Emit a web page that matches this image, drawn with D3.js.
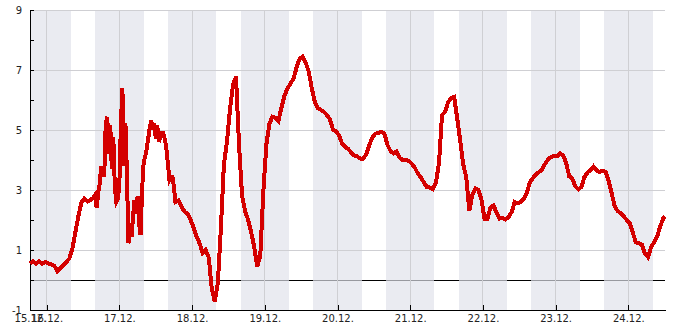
<!DOCTYPE html>
<html><head><meta charset="utf-8">
<script src="https://cdn.jsdelivr.net/npm/d3@7"></script>
<style>
body{margin:0;background:#fff}
text{font-family:"DejaVu Sans",sans-serif;font-size:10px;fill:#222}
</style>
</head><body>
<svg id="c" width="685" height="330"></svg>
<script>
const times = [
"2022-12-15 18:30","2022-12-15 19:30","2022-12-15 20:30","2022-12-15 21:30","2022-12-15 22:30","2022-12-15 23:30",
"2022-12-16 00:30","2022-12-16 01:30","2022-12-16 02:30","2022-12-16 03:30","2022-12-16 04:30","2022-12-16 05:30",
"2022-12-16 06:30","2022-12-16 07:30","2022-12-16 08:30","2022-12-16 09:30","2022-12-16 10:30","2022-12-16 11:30",
"2022-12-16 12:30","2022-12-16 13:30","2022-12-16 14:30","2022-12-16 15:30","2022-12-16 16:00","2022-12-16 16:30",
"2022-12-16 17:00","2022-12-16 17:30","2022-12-16 18:00","2022-12-16 18:30","2022-12-16 19:00","2022-12-16 19:30",
"2022-12-16 20:00","2022-12-16 20:30","2022-12-16 21:00","2022-12-16 21:30","2022-12-16 22:00","2022-12-16 22:30",
"2022-12-16 23:00","2022-12-16 23:30","2022-12-17 00:00","2022-12-17 00:30","2022-12-17 01:00","2022-12-17 01:30",
"2022-12-17 02:00","2022-12-17 02:30","2022-12-17 03:00","2022-12-17 03:30","2022-12-17 04:00","2022-12-17 04:30",
"2022-12-17 05:00","2022-12-17 05:30","2022-12-17 06:00","2022-12-17 06:30","2022-12-17 07:00","2022-12-17 07:30",
"2022-12-17 08:00","2022-12-17 08:30","2022-12-17 09:00","2022-12-17 09:30","2022-12-17 10:00","2022-12-17 10:30",
"2022-12-17 11:00","2022-12-17 11:30","2022-12-17 12:00","2022-12-17 12:30","2022-12-17 13:00","2022-12-17 13:30",
"2022-12-17 14:00","2022-12-17 14:30","2022-12-17 15:00","2022-12-17 15:30","2022-12-17 16:00","2022-12-17 16:30",
"2022-12-17 17:00","2022-12-17 17:30","2022-12-17 18:00","2022-12-17 18:30","2022-12-17 19:30","2022-12-17 20:30",
"2022-12-17 21:30","2022-12-17 22:30","2022-12-17 23:30","2022-12-18 00:30","2022-12-18 01:30","2022-12-18 02:30",
"2022-12-18 03:30","2022-12-18 04:30","2022-12-18 05:30","2022-12-18 06:30","2022-12-18 07:30","2022-12-18 08:30",
"2022-12-18 09:30","2022-12-18 10:30","2022-12-18 11:30","2022-12-18 12:30","2022-12-18 13:30","2022-12-18 14:30",
"2022-12-18 15:30","2022-12-18 16:30","2022-12-18 17:30","2022-12-18 18:30","2022-12-18 19:30","2022-12-18 20:30",
"2022-12-18 21:30","2022-12-18 22:30","2022-12-18 23:30","2022-12-19 00:30","2022-12-19 01:30","2022-12-19 02:30",
"2022-12-19 03:30","2022-12-19 04:30","2022-12-19 05:30","2022-12-19 06:30","2022-12-19 07:30","2022-12-19 08:30",
"2022-12-19 09:30","2022-12-19 10:30","2022-12-19 11:30","2022-12-19 12:30","2022-12-19 13:30","2022-12-19 14:30",
"2022-12-19 15:30","2022-12-19 16:30","2022-12-19 17:30","2022-12-19 18:30","2022-12-19 19:30","2022-12-19 20:30",
"2022-12-19 21:30","2022-12-19 22:30","2022-12-19 23:30","2022-12-20 00:30","2022-12-20 01:30","2022-12-20 02:30",
"2022-12-20 03:30","2022-12-20 04:30","2022-12-20 05:30","2022-12-20 06:30","2022-12-20 07:30","2022-12-20 08:30",
"2022-12-20 09:30","2022-12-20 10:30","2022-12-20 11:30","2022-12-20 12:30","2022-12-20 13:30","2022-12-20 14:30",
"2022-12-20 15:30","2022-12-20 16:30","2022-12-20 17:30","2022-12-20 18:30","2022-12-20 19:30","2022-12-20 20:30",
"2022-12-20 21:30","2022-12-20 22:30","2022-12-20 23:30","2022-12-21 00:30","2022-12-21 01:30","2022-12-21 02:30",
"2022-12-21 03:30","2022-12-21 04:30","2022-12-21 05:30","2022-12-21 06:30","2022-12-21 07:30","2022-12-21 08:30",
"2022-12-21 09:30","2022-12-21 10:30","2022-12-21 11:30","2022-12-21 12:30","2022-12-21 13:30","2022-12-21 14:30",
"2022-12-21 15:30","2022-12-21 16:30","2022-12-21 17:30","2022-12-21 18:30","2022-12-21 19:30","2022-12-21 20:30",
"2022-12-21 21:30","2022-12-21 22:30","2022-12-21 23:30","2022-12-22 00:30","2022-12-22 01:30","2022-12-22 02:30",
"2022-12-22 03:30","2022-12-22 04:30","2022-12-22 05:30","2022-12-22 06:30","2022-12-22 07:30","2022-12-22 08:30",
"2022-12-22 09:30","2022-12-22 10:30","2022-12-22 11:30","2022-12-22 12:30","2022-12-22 13:30","2022-12-22 14:30",
"2022-12-22 15:30","2022-12-22 16:30","2022-12-22 17:30","2022-12-22 18:30","2022-12-22 19:30","2022-12-22 20:30",
"2022-12-22 21:30","2022-12-22 22:30","2022-12-22 23:30","2022-12-23 00:30","2022-12-23 01:30","2022-12-23 02:30",
"2022-12-23 03:30","2022-12-23 04:30","2022-12-23 05:30","2022-12-23 06:30","2022-12-23 07:30","2022-12-23 08:30",
"2022-12-23 09:30","2022-12-23 10:30","2022-12-23 11:30","2022-12-23 12:30","2022-12-23 13:30","2022-12-23 14:30",
"2022-12-23 15:30","2022-12-23 16:30","2022-12-23 17:30","2022-12-23 18:30","2022-12-23 19:30","2022-12-23 20:30",
"2022-12-23 21:30","2022-12-23 22:30","2022-12-23 23:30","2022-12-24 00:30","2022-12-24 01:30","2022-12-24 02:30",
"2022-12-24 03:30","2022-12-24 04:30","2022-12-24 05:30","2022-12-24 06:30","2022-12-24 07:30","2022-12-24 08:30",
"2022-12-24 09:30","2022-12-24 10:30","2022-12-24 11:30","2022-12-24 12:00"
];
const values = [
0.55,0.62,0.55,0.62,0.55,0.6,
0.55,0.52,0.48,0.3,0.4,0.5,
0.6,0.72,1.05,1.6,2.15,2.6,
2.72,2.62,2.67,2.75,2.83,2.4,
2.9,3.2,3.78,3.6,3.45,5.22,
5.44,4.2,5.15,3.7,4.78,3.11,
2.6,2.7,3.2,5.2,6.4,3.8,
5.22,3.5,1.22,1.89,1.44,2.1,
2.67,2.22,2.78,1.9,1.5,3.0,
3.9,4.11,4.35,4.7,5.05,5.33,
5.0,5.22,4.72,5.17,4.6,4.75,
4.89,4.89,4.7,4.4,3.9,3.35,
3.45,3.45,3.1,2.6,2.65,2.44,
2.28,2.2,2.0,1.75,1.44,1.22,
0.9,1.0,0.75,-0.3,-0.72,-0.1,
1.7,3.85,4.6,5.67,6.5,6.78,
4.5,2.8,2.3,2.0,1.6,1.1,
0.45,0.8,2.9,4.5,5.2,5.44,
5.4,5.3,5.75,6.15,6.38,6.56,
6.7,7.1,7.38,7.45,7.25,6.95,
6.4,5.95,5.72,5.67,5.6,5.5,
5.35,5.02,4.95,4.82,4.55,4.44,
4.37,4.25,4.15,4.12,4.05,4.05,
4.2,4.5,4.75,4.88,4.9,4.94,
4.88,4.5,4.3,4.22,4.28,4.08,
4.0,4.0,3.97,3.88,3.75,3.55,
3.42,3.25,3.1,3.08,3.03,3.25,
3.9,5.5,5.6,5.92,6.06,6.1,
5.4,4.65,3.85,3.42,2.3,2.85,
3.05,3.0,2.7,2.05,2.05,2.42,
2.48,2.25,2.05,2.07,2.02,2.1,
2.27,2.6,2.56,2.61,2.7,2.92,
3.25,3.4,3.52,3.6,3.67,3.87,
4.02,4.1,4.15,4.13,4.22,4.15,
3.89,3.45,3.39,3.12,3.02,3.1,
3.43,3.58,3.66,3.78,3.65,3.6,
3.64,3.61,3.3,2.9,2.45,2.3,
2.22,2.12,2.0,1.88,1.57,1.25,
1.23,1.18,0.87,0.76,1.1,1.25,
1.45,1.78,2.05,2.13
];
const yTickValues = [-1,0,1,2,3,4,5,6,7,8,9];
const yLabelValues = [-1,1,3,5,7,9];
const dayTicks = ["2022-12-16 00:00","2022-12-17 00:00","2022-12-18 00:00","2022-12-19 00:00","2022-12-20 00:00",
                  "2022-12-21 00:00","2022-12-22 00:00","2022-12-23 00:00","2022-12-24 00:00"];
const domainStart = "2022-12-15 18:30";
const domainEnd = "2022-12-24 12:06";
const nightStartHour = 16, nightEndHour = 8;

const parse = d3.timeParse("%Y-%m-%d %H:%M");
const data = times.map((t,i)=>({t:parse(t), v:values[i]}));
const L=30, R=665, T=10, B=310;
const x = d3.scaleTime().domain([parse(domainStart), parse(domainEnd)]).range([L,R]);
const y = d3.scaleLinear().domain([-1,9]).range([B,T]);
const svg = d3.select("#c");

// zero line (under night bands)
svg.append("line").attr("x1",L).attr("x2",R).attr("y1",y(0)).attr("y2",y(0))
  .attr("stroke","#000").attr("stroke-width",1).attr("shape-rendering","crispEdges");

// night bands
const bands=[];
const d0 = d3.timeDay.floor(x.domain()[0]);
for(let d=d3.timeDay.offset(d0,-1); d<x.domain()[1]; d=d3.timeDay.offset(d,1)){
  const s = d3.timeHour.offset(d, nightStartHour);
  const e = d3.timeHour.offset(d3.timeDay.offset(d,1), nightEndHour);
  const s2 = Math.max(+s, +x.domain()[0]), e2 = Math.min(+e, +x.domain()[1]);
  if(e2>s2) bands.push([new Date(s2), new Date(e2)]);
}
svg.append("g").selectAll("rect").data(bands).join("rect")
  .attr("x",d=>x(d[0])).attr("width",d=>x(d[1])-x(d[0]))
  .attr("y",T).attr("height",B-T)
  .attr("fill","rgb(224,225,234)").attr("fill-opacity",0.68).attr("shape-rendering","crispEdges");

// grid
const grid = svg.append("g").attr("stroke","#cfcfd3").attr("stroke-width",1).attr("shape-rendering","crispEdges");
grid.selectAll("line.h").data(yLabelValues.filter(v=>v>-1)).join("line").attr("class","h")
  .attr("x1",L).attr("x2",R).attr("y1",d=>y(d)).attr("y2",d=>y(d));
grid.selectAll("line.v").data(dayTicks.map(parse)).join("line").attr("class","v")
  .attr("x1",d=>x(d)).attr("x2",d=>x(d)).attr("y1",T).attr("y2",B);

// axes
const fmt = d3.timeFormat("%d.%m.");
const xAxis = d3.axisBottom(x)
  .tickValues([parse(domainStart), ...dayTicks.map(parse)])
  .tickFormat(fmt).tickSizeInner(-5).tickSizeOuter(0).tickPadding(5);
const gx = svg.append("g").attr("transform",`translate(0,${B})`).call(xAxis);
gx.select(".domain").attr("stroke","#000").attr("shape-rendering","crispEdges");
gx.selectAll(".tick line").attr("stroke","#000").attr("shape-rendering","crispEdges");
gx.selectAll("text").attr("fill","#222").attr("font-family","DejaVu Sans").attr("font-size",10);

const yAxis = d3.axisLeft(y).tickValues(yTickValues)
  .tickFormat(d=>yLabelValues.includes(d)?String(d):"")
  .tickSizeInner(-4).tickSizeOuter(0).tickPadding(8);
const gy = svg.append("g").attr("transform",`translate(${L},0)`).call(yAxis);
gy.select(".domain").attr("stroke","#000").attr("shape-rendering","crispEdges");
gy.selectAll(".tick line").attr("stroke","#000").attr("shape-rendering","crispEdges");
gy.selectAll("text").attr("fill","#222").attr("font-family","DejaVu Sans").attr("font-size",10);

// data line
const line = d3.line().x(d=>x(d.t)).y(d=>y(d.v));
svg.append("path").datum(data).attr("d",line)
  .attr("fill","none").attr("stroke","#d40000").attr("stroke-width",4)
  .attr("stroke-linejoin","miter").attr("shape-rendering","crispEdges");
</script>
</body></html>
